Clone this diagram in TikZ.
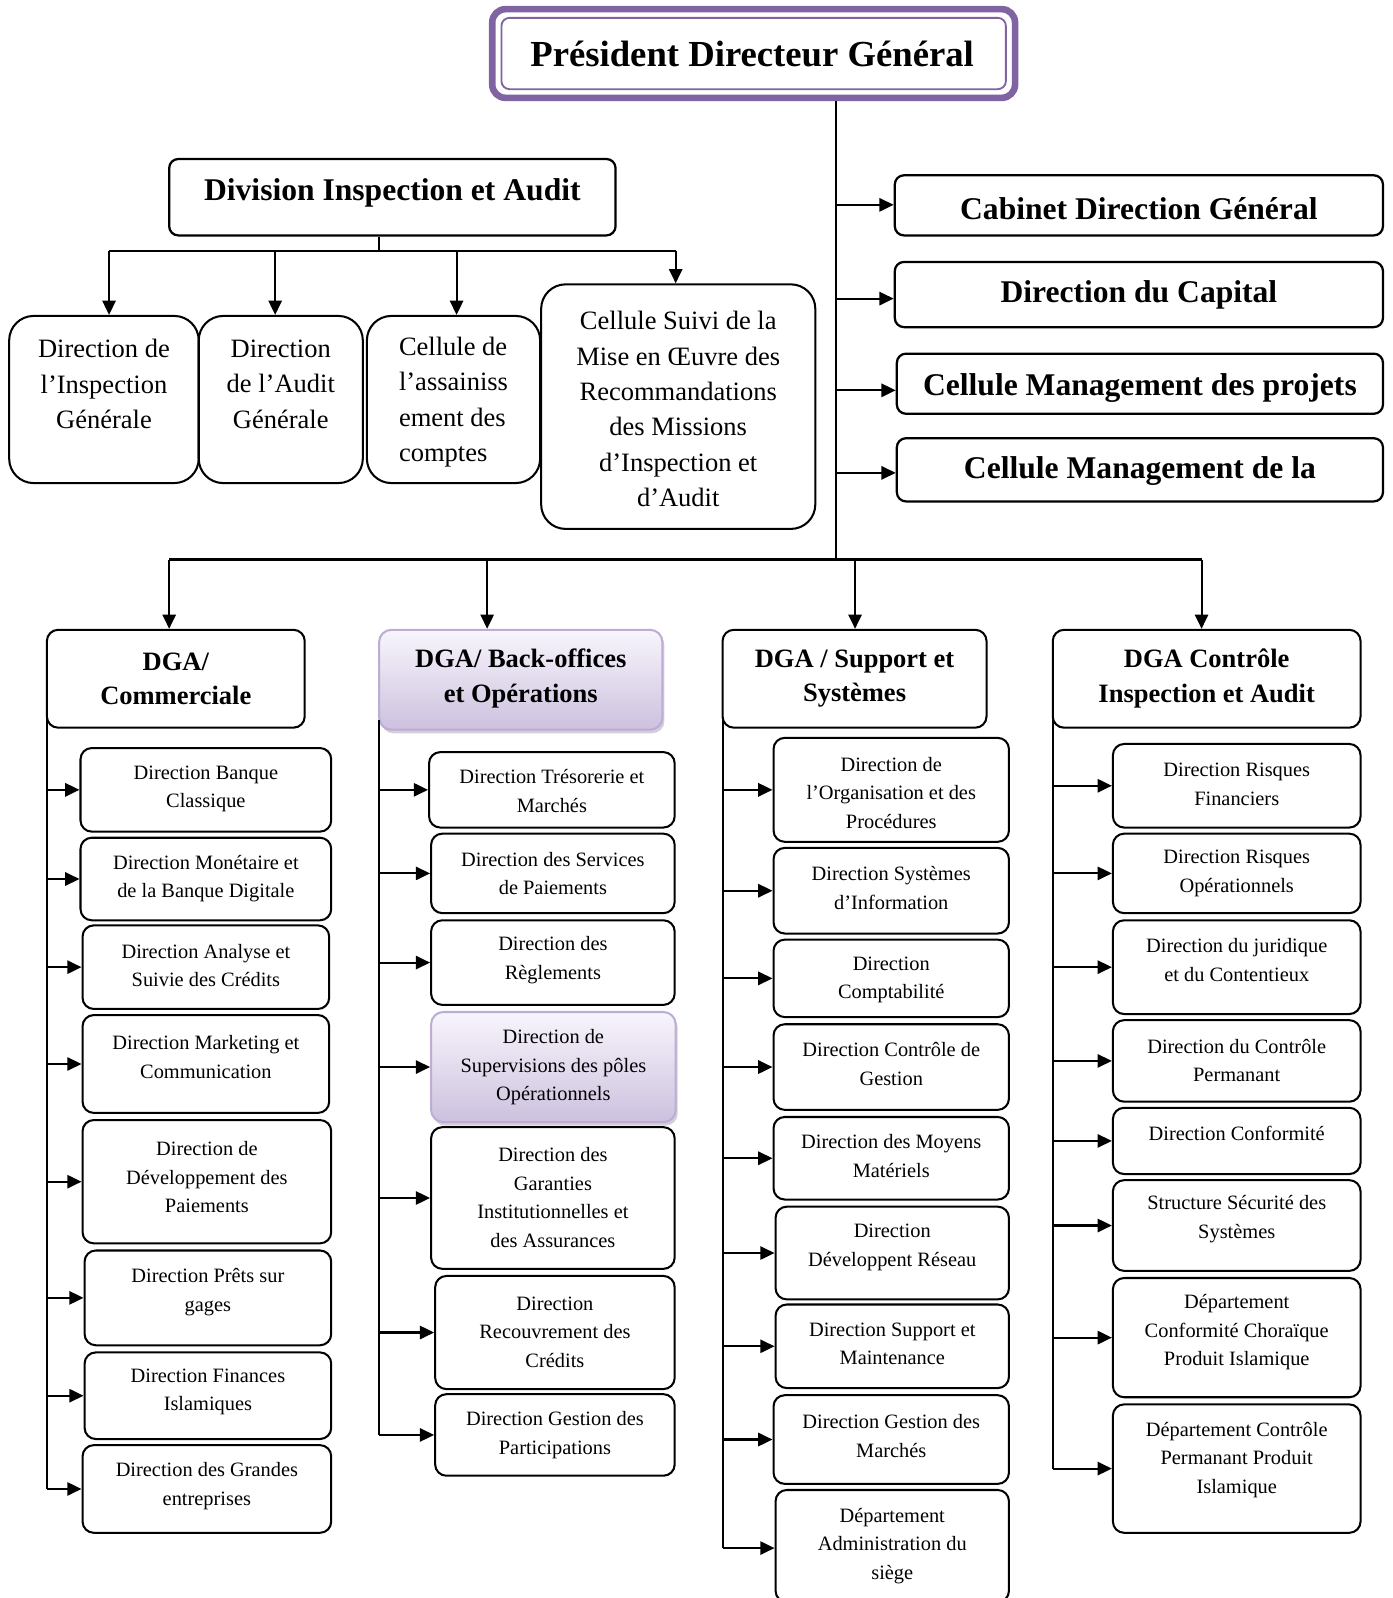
\documentclass[tikz,border=0pt]{standalone}
\usepackage{fontspec}
\setmainfont{Liberation Serif}
\usetikzlibrary{arrows.meta,shadows}
\definecolor{pur}{HTML}{8064A2}
\definecolor{purL}{HTML}{F8F5FC}
\definecolor{purD}{HTML}{CDC1DE}
\definecolor{purB}{HTML}{BCACD6}
\tikzset{
  box/.style={draw=black, line width=2pt, rounded corners=11pt, fill=white, inner sep=0pt},
  bigbox/.style={box, rounded corners=24pt},
  hdbox/.style={box, rounded corners=9pt, line width=2.2pt},
  purbox/.style={draw=purB, line width=2pt, rounded corners=12pt, top color=purL, bottom color=purD, inner sep=0pt,
    drop shadow={shadow xshift=2pt, shadow yshift=-3.5pt, fill=purD!70!gray, opacity=0.6}},
  t20/.style={inner sep=0pt, align=center, font=\fontsize{20}{28}\selectfont},
  t26/.style={inner sep=0pt, align=center, font=\fontsize{26}{34.7}\selectfont},
  t26l/.style={t26, align=left},
  h26/.style={inner sep=0pt, align=center, font=\bfseries\fontsize{26}{34}\selectfont},
  h31/.style={inner sep=0pt, align=center, font=\bfseries\fontsize{31}{37}\selectfont},
  h36/.style={inner sep=0pt, align=center, font=\bfseries\fontsize{36}{42}\selectfont},
  ln/.style={line width=2.1pt},
  arr/.style={line width=2.1pt, -{Triangle[length=14pt,width=13pt]}},
}
\newcommand\bx[9]{%
  \node[#7, minimum width={(#4-#2)*1pt}, minimum height={(#5-#3)*1pt}] (#1) at ({(#2+#4)/2},{(#3+#5)/2}) {};
  \node[#8] (#1t) at ({(#2+#4)/2},#6) {#9};
}
\begin{document}
\begin{tikzpicture}[x=1pt,y=-1pt]
\useasboundingbox (0,0) rectangle (1366,1568);
% --- President
\node[draw=pur, line width=6.5pt, rounded corners=13pt, fill=white, minimum width=513pt, minimum height=87pt, inner sep=0pt] (pdg) at (739.5,52.5) {};
\node[draw=pur, line width=1.8pt, rounded corners=8pt, minimum width=495pt, minimum height=70pt, inner sep=0pt] (pdgin) at (739.5,52.5) {};
\node[h36] (pdgt) at (738,53) {Président Directeur Général};
% trunk
\coordinate (tr) at (820,549);
\draw[ln] (pdg.south -| tr) -- (tr);
% --- Division
\bx{div}{166}{156}{604}{231}{189}{hdbox}{h31}{Division Inspection et Audit}
\coordinate (dvA) at (372,246);
\coordinate (dvL) at (107,246);
\coordinate (dv2) at (270,246);
\coordinate (dv3) at (448,246);
\coordinate (dvR) at (663,246);
\draw[ln] (dvA |- div.south) -- (dvA);
\draw[ln] (dvL) -- (dvR);
\bx{tl1}{9}{310}{195}{474}{377}{bigbox}{t26}{Direction de\\l’Inspection\\Générale}
\bx{tl2}{195}{310}{356}{474}{377}{bigbox}{t26}{Direction\\de l’Audit\\Générale}
\bx{tl3}{360}{310}{530}{474}{394.5}{bigbox}{t26l}{Cellule de\\l’assainiss\\ement des\\comptes}
\bx{tl4}{531}{279}{800}{519}{401.5}{bigbox}{t26}{Cellule Suivi de la\\Mise en Œuvre des\\Recommandations\\des Missions\\d’Inspection et\\d’Audit}
\draw[arr] (dvL) -- (dvL |- tl1.north);
\draw[arr] (dv2) -- (dv2 |- tl2.north);
\draw[arr] (dv3) -- (dv3 |- tl3.north);
\draw[arr] (dvR) -- (dvR |- tl4.north);
% --- right boxes
\bx{r1}{878}{172}{1357}{231}{205}{hdbox}{h31}{Cabinet Direction Général}
\bx{r2}{878}{257}{1357}{321}{289}{hdbox}{h31}{Direction du Capital}
\bx{r3}{880}{347}{1357}{406}{381}{hdbox}{h31}{Cellule Management des projets}
\bx{r4}{880}{430}{1357}{492}{462}{hdbox}{h31}{Cellule Management de la}
\coordinate (ra1) at (820,201);
\coordinate (ra2) at (820,293);
\coordinate (ra3) at (820,383);
\coordinate (ra4) at (820,464);
\draw[arr] (ra1) -- (ra1 -| r1.west);
\draw[arr] (ra2) -- (ra2 -| r2.west);
\draw[arr] (ra3) -- (ra3 -| r3.west);
\draw[arr] (ra4) -- (ra4 -| r4.west);
% --- bus
\coordinate (b1) at (166,549);
\coordinate (b2) at (478,549);
\coordinate (b3) at (839,549);
\coordinate (b4) at (1179,549);
\draw[ln] (b1) -- (b4);
\bx{g1}{46}{618}{299}{714}{666}{box}{h26}{DGA/\\Commerciale}
\bx{g2}{372}{618}{650}{716}{666}{purbox}{h26}{DGA/ Back-offices\\et Opérations}
\bx{g3}{709}{618}{968}{714}{666}{box}{h26}{DGA / Support et\\Systèmes}
\bx{g4}{1033}{618}{1335}{714}{666}{box}{h26}{DGA Contrôle\\Inspection et Audit}
\draw[arr] (b1) -- (b1 |- g1.north);
\draw[arr] (b2) -- (b2 |- g2.north);
\draw[arr] (b3) -- (b3 |- g3.north);
\draw[arr] (b4) -- (b4 |- g4.north);
% --- column 1
\bx{a1}{79}{734}{325}{816}{774}{box}{t20}{Direction Banque\\Classique}
\bx{a2}{79}{822}{325}{903}{862}{box}{t20}{Direction Monétaire et\\de la Banque Digitale}
\bx{a3}{81}{908}{323}{990}{947.5}{box}{t20}{Direction Analyse et\\Suivie des Crédits}
\bx{a4}{81}{996}{323}{1092}{1037}{box}{t20}{Direction Marketing et\\Communication}
\bx{a5}{81}{1099}{325}{1220}{1155}{box}{t20}{Direction de\\Développement des\\Paiements}
\bx{a6}{83}{1227}{325}{1320}{1268}{box}{t20}{Direction Prêts sur\\gages}
\bx{a7}{83}{1327}{325}{1412}{1366}{box}{t20}{Direction Finances\\Islamiques}
\bx{a8}{81}{1418}{325}{1504}{1458}{box}{t20}{Direction des Grandes\\entreprises}
\coordinate (c1) at (46,705);
\draw[ln] (c1) -- (c1 |- a8.west);
\foreach \n in {a1,a2,a3,a4,a5,a6,a7,a8} \draw[arr] (c1 |- \n.west) -- (\n.west);
% --- column 2
\bx{p1}{421}{738}{662}{812}{776}{box}{t20}{Direction Trésorerie et\\Marchés}
\bx{p2}{423}{818}{662}{896}{857}{box}{t20}{Direction des Services\\de Paiements}
\bx{p3}{423}{903}{662}{986}{942}{box}{t20}{Direction des\\Règlements}
\bx{p4}{423}{993}{663}{1101}{1047.5}{purbox}{t20}{Direction de\\Supervisions des pôles\\Opérationnels}
\bx{p5}{423}{1106}{662}{1245}{1175}{box}{t20}{Direction des\\Garanties\\Institutionnelles et\\des Assurances}
\bx{p6}{427}{1252}{662}{1363}{1307}{box}{t20}{Direction\\Recouvrement des\\Crédits}
\bx{p7}{427}{1368}{662}{1448}{1408}{box}{t20}{Direction Gestion des\\Participations}
\coordinate (c2) at (372,706);
\draw[ln] (c2) -- (c2 |- p7.west);
\foreach \n in {p1,p2,p3,p4,p5,p6,p7} \draw[arr] (c2 |- \n.west) -- (\n.west);
% --- column 3
\bx{s1}{759}{724}{990}{826}{778}{box}{t20}{Direction de\\l’Organisation et des\\Procédures}
\bx{s2}{759}{832}{990}{916}{871.5}{box}{t20}{Direction Systèmes\\d’Information}
\bx{s3}{759}{922}{990}{998}{961.5}{box}{t20}{Direction\\Comptabilité}
\bx{s4}{759}{1005}{990}{1089}{1044}{box}{t20}{Direction Contrôle de\\Gestion}
\bx{s5}{759}{1096}{990}{1177}{1134.5}{box}{t20}{Direction des Moyens\\Matériels}
\bx{s6}{761}{1184}{990}{1275}{1224}{box}{t20}{Direction\\Développent Réseau}
\bx{s7}{761}{1280}{990}{1362}{1318.5}{box}{t20}{Direction Support et\\Maintenance}
\bx{s8}{759}{1369}{990}{1456}{1409}{box}{t20}{Direction Gestion des\\Marchés}
\bx{s9}{761}{1462}{990}{1572}{1517}{box}{t20}{Département\\Administration du\\siège}
\coordinate (c3) at (709,705);
\coordinate (c3b) at (709,1519);
\draw[ln] (c3) -- (c3b);
\foreach \n in {s1,s2,s3,s4,s5,s6,s7,s8} \draw[arr] (c3 |- \n.west) -- (\n.west);
\draw[arr] (c3b) -- (c3b -| s9.west);
% --- column 4
\bx{k1}{1092}{730}{1335}{812}{769.5}{box}{t20}{Direction Risques\\Financiers}
\bx{k2}{1092}{818}{1335}{896}{857}{box}{t20}{Direction Risques\\Opérationnels}
\bx{k3}{1092}{903}{1335}{995}{942}{box}{t20}{Direction du juridique\\et du Contentieux}
\bx{k4}{1092}{1001}{1335}{1081}{1040.5}{box}{t20}{Direction du Contrôle\\Permanant}
\bx{k5}{1092}{1087}{1335}{1152}{1112}{box}{t20}{Direction Conformité}
\bx{k6}{1092}{1158}{1335}{1247}{1196}{box}{t20}{Structure Sécurité des\\Systèmes}
\bx{k7}{1092}{1254}{1335}{1371}{1307.5}{box}{t20}{Département\\Conformité Choraïque\\Produit Islamique}
\bx{k8}{1092}{1378}{1335}{1504}{1432.5}{box}{t20}{Département Contrôle\\Permanant Produit\\Islamique}
\coordinate (c4) at (1033,705);
\draw[ln] (c4) -- (c4 |- k8.west);
\foreach \n in {k1,k2,k3,k4,k5,k6,k7,k8} \draw[arr] (c4 |- \n.west) -- (\n.west);
\end{tikzpicture}
\end{document}
